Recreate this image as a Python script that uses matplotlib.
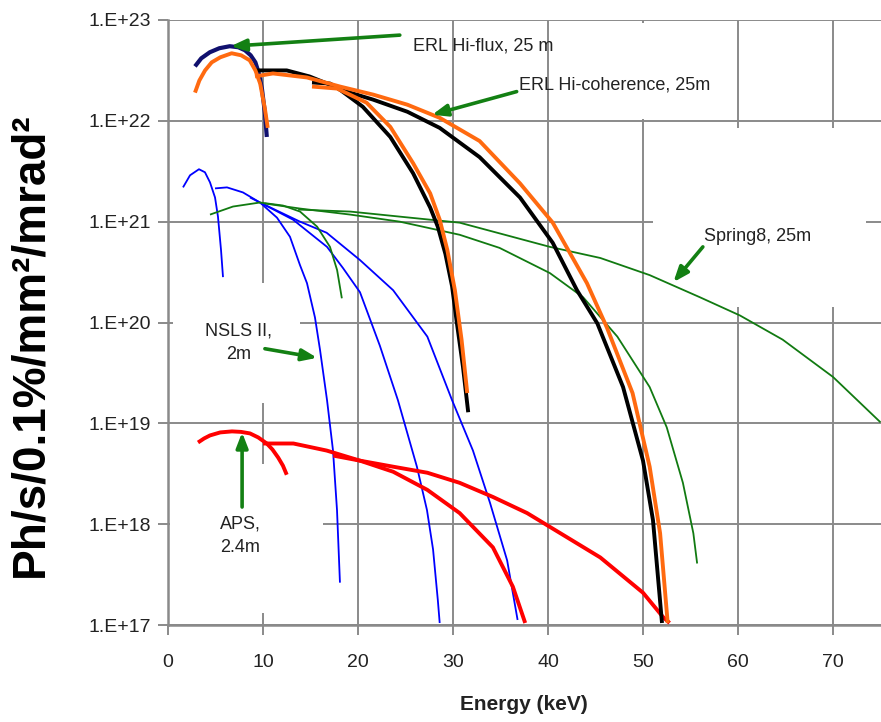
import matplotlib
matplotlib.use("Agg")
import matplotlib.pyplot as plt
from matplotlib.patches import Rectangle
import numpy as np

plt.rcParams['font.family'] = ['Liberation Sans', 'DejaVu Sans']

# ---- data (energy in keV, log10 of brightness) ----
# ERL Hi-flux, 25 m
erl_flux_1_e = [2.84, 3.5, 4.4, 5.4, 6.5, 7.4, 8.1, 8.7, 9.2, 9.6, 9.9, 10.2, 10.4]
erl_flux_1_l = [22.54, 22.62, 22.68, 22.72, 22.74, 22.73, 22.70, 22.65, 22.58, 22.46, 22.31, 22.08, 21.84]
erl_flux_3_e = [9.16, 12.5, 14.9, 17.8, 20.5, 23.4, 25.8, 27.6, 28.4, 29.2, 29.9, 30.4, 31.05, 31.6]
erl_flux_3_l = [22.50, 22.50, 22.44, 22.33, 22.14, 21.84, 21.48, 21.14, 20.95, 20.68, 20.36, 20.0, 19.56, 19.11]
erl_flux_5_e = [15.16, 17.05, 18.1, 21.6, 25.2, 28.6, 32.8, 37.05, 40.5, 43.05, 45.2, 47.9, 50.0, 51.05, 52.0]
erl_flux_5_l = [22.38, 22.37, 22.31, 22.21, 22.09, 21.93, 21.64, 21.24, 20.79, 20.32, 19.99, 19.36, 18.63, 18.04, 17.02]

# ERL Hi-coherence, 25 m
erl_coh_1_e = [2.84, 3.3, 3.9, 4.6, 5.5, 6.7, 7.7, 8.6, 9.2, 9.7, 10.2, 10.5]
erl_coh_1_l = [22.28, 22.40, 22.50, 22.58, 22.63, 22.67, 22.65, 22.60, 22.50, 22.37, 22.12, 21.93]
erl_coh_a_e = [9.16, 11.05, 14.63, 18.1, 21.6, 25.2, 28.6, 32.8, 37.05, 40.5, 44.1, 46.2, 48.9, 50.7, 51.8, 52.6]
erl_coh_a_l = [22.44, 22.47, 22.43, 22.34, 22.26, 22.16, 22.03, 21.80, 21.38, 20.99, 20.39, 19.95, 19.30, 18.57, 17.91, 17.02]
erl_coh_b_e = [15.16, 17.8, 20.9, 23.4, 25.8, 27.6, 28.6, 29.4, 30.2, 30.9, 31.5]
erl_coh_b_l = [22.34, 22.32, 22.18, 21.94, 21.58, 21.28, 21.02, 20.72, 20.32, 19.83, 19.30]

# NSLS II, 2 m
nsls_1_e = [1.58, 2.32, 3.26, 3.89, 4.42, 4.95, 5.26, 5.58, 5.79]
nsls_1_l = [21.34, 21.46, 21.52, 21.49, 21.39, 21.24, 21.05, 20.72, 20.45]
nsls_3_e = [4.95, 6.21, 7.89, 9.68, 11.47, 12.84, 13.89, 14.63, 15.47, 16.0, 16.74, 17.37, 17.79, 18.1]
nsls_3_l = [21.33, 21.34, 21.29, 21.19, 21.04, 20.85, 20.57, 20.39, 20.05, 19.73, 19.23, 18.73, 18.14, 17.42]
nsls_5_e = [8.63, 9.89, 13.16, 16.74, 18.42, 20.21, 22.3, 24.2, 26.2, 27.26, 27.9, 28.4, 28.6]
nsls_5_l = [21.24, 21.18, 21.02, 20.75, 20.54, 20.30, 19.77, 19.23, 18.57, 18.14, 17.75, 17.25, 17.02]
nsls_7_e = [9.9, 13.9, 16.7, 20.2, 23.7, 27.3, 29.9, 32.1, 33.9, 35.7, 36.8]
nsls_7_l = [21.18, 21.0, 20.89, 20.62, 20.32, 19.86, 19.23, 18.73, 18.21, 17.64, 17.05]

# Spring8, 25 m
sp8_a_e = [4.42, 6.84, 9.68, 12.1, 13.9, 15.7, 17.05, 17.8, 18.3]
sp8_a_l = [21.07, 21.15, 21.19, 21.16, 21.10, 20.95, 20.75, 20.52, 20.24]
sp8_b_e = [10.2, 13.9, 19.2, 24.4, 30.7, 34.9, 40.2, 43.7, 47.3, 50.7, 52.5, 54.2, 55.3, 55.7]
sp8_b_l = [21.18, 21.13, 21.07, 21.0, 20.87, 20.74, 20.49, 20.25, 19.86, 19.36, 18.96, 18.41, 17.91, 17.61]
sp8_c_e = [13.7, 19.2, 24.4, 30.7, 40.2, 45.5, 50.7, 56.0, 60.2, 64.7, 70.0, 75.0]
sp8_c_l = [21.12, 21.10, 21.05, 20.99, 20.75, 20.64, 20.47, 20.25, 20.07, 19.83, 19.46, 19.01]

# APS, 2.4 m
aps_1_e = [3.16, 3.8, 4.42, 5.5, 6.74, 7.7, 8.63, 9.5, 10.4, 11.0, 11.6, 12.1, 12.5]
aps_1_l = [18.81, 18.85, 18.88, 18.91, 18.92, 18.915, 18.90, 18.86, 18.80, 18.74, 18.66, 18.58, 18.49]
aps_3_e = [10.0, 13.2, 16.7, 20.2, 23.7, 27.3, 30.7, 34.2, 37.8, 41.3, 45.5, 50.0, 52.1, 52.8]
aps_3_l = [18.80, 18.80, 18.73, 18.63, 18.57, 18.51, 18.41, 18.27, 18.11, 17.91, 17.67, 17.32, 17.08, 17.02]
aps_5_e = [17.4, 20.2, 23.7, 27.3, 30.7, 34.2, 36.3, 37.6]
aps_5_l = [18.68, 18.63, 18.52, 18.34, 18.11, 17.77, 17.38, 17.02]

y_ticks = [1e17, 1e18, 1e19, 1e20, 1e21, 1e22, 1e23]
y_tick_labels = ['1.E+17', '1.E+18', '1.E+19', '1.E+20', '1.E+21', '1.E+22', '1.E+23']
x_ticks = [0, 10, 20, 30, 40, 50, 60, 70]

fig = plt.figure(figsize=(8.81, 7.22), dpi=100)
ax = fig.add_axes([168 / 881, 1 - 625 / 722, 712.5 / 881, 605 / 722])
ax.set_yscale('log')
ax.set_xlim(0, 75)
ax.set_ylim(1e17, 1e23)

grid_c = '#8a8a8a'
ax.set_axisbelow(True)
ax.grid(True, which='major', color=grid_c, lw=1.4)
ax.minorticks_off()
ax.set_xticks(x_ticks)
ax.set_yticks(y_ticks)
ax.set_yticklabels(y_tick_labels)
ax.tick_params(axis='both', colors=grid_c, labelcolor='#222222', labelsize=14,
               length=7, width=1.4, direction='out')
ax.tick_params(axis='y', pad=5)
ax.tick_params(axis='x', pad=14)
for s in ['top', 'right']:
    ax.spines[s].set_visible(False)
for s in ['left', 'bottom']:
    ax.spines[s].set_color(grid_c)
    ax.spines[s].set_linewidth(1.8)

# white text boxes that hide gridlines
for x0, x1, l0, l1 in [(0.5, 13.9, 19.2, 20.39), (0.2, 16.3, 17.12, 18.6),
                       (51.0, 73.5, 20.15, 21.93), (45.5, 55.5, 22.02, 22.97)]:
    ax.add_patch(Rectangle((x0, 10 ** l0), x1 - x0, 10 ** l1 - 10 ** l0,
                           facecolor='white', edgecolor='none', zorder=1))

def curve(e, l, color, lw, z=3):
    ax.plot(e, 10 ** np.array(l), color=color, lw=lw, zorder=z,
            solid_capstyle='butt', solid_joinstyle='round')

blue = '#0000ff'
green = '#117a11'
for e, l in [(nsls_1_e, nsls_1_l), (nsls_3_e, nsls_3_l), (nsls_5_e, nsls_5_l), (nsls_7_e, nsls_7_l)]:
    curve(e, l, blue, 1.3)
for e, l in [(sp8_a_e, sp8_a_l), (sp8_b_e, sp8_b_l), (sp8_c_e, sp8_c_l)]:
    curve(e, l, green, 1.3)
for e, l in [(aps_1_e, aps_1_l), (aps_3_e, aps_3_l), (aps_5_e, aps_5_l)]:
    curve(e, l, '#ff0000', 2.8)
curve(erl_flux_1_e, erl_flux_1_l, '#10106e', 3.0, 4)
for e, l in [(erl_flux_3_e, erl_flux_3_l), (erl_flux_5_e, erl_flux_5_l)]:
    curve(e, l, '#000000', 2.8, 4)
for e, l in [(erl_coh_1_e, erl_coh_1_l), (erl_coh_a_e, erl_coh_a_l), (erl_coh_b_e, erl_coh_b_l)]:
    curve(e, l, '#ff6a10', 2.8, 5)

# labels with arrows
txt_c = '#222222'
arr = dict(arrowstyle='-|>,head_length=0.9,head_width=0.35', color='#138013', lw=2.6, shrinkA=0, shrinkB=0)

def arrow(e0, l0, e1, l1):
    ax.annotate('', xy=(e1, 10 ** l1), xytext=(e0, 10 ** l0), arrowprops=arr, zorder=6)

fs = 13
arrow(24.4, 22.85, 6.6, 22.74)
ax.text(25.8, 10 ** 22.74, 'ERL Hi-flux, 25 m', fontsize=fs, color=txt_c, ha='left', va='center', zorder=6)
arrow(36.7, 22.29, 27.8, 22.06)
ax.text(36.95, 10 ** 22.36, 'ERL Hi-coherence, 25m', fontsize=fs, color=txt_c, ha='left', va='center', zorder=6)
arrow(56.3, 20.75, 53.2, 20.40)
ax.text(56.4, 10 ** 20.85, 'Spring8, 25m', fontsize=fs, color=txt_c, ha='left', va='center', zorder=6)
arrow(10.2, 19.74, 15.7, 19.65)
ax.text(7.4, 10 ** 19.8, 'NSLS II,\n2m', fontsize=fs, color=txt_c, ha='center', va='center',
        linespacing=1.5, zorder=6)
arrow(7.8, 18.17, 7.8, 18.91)
ax.text(7.6, 10 ** 17.89, 'APS,\n2.4m', fontsize=fs, color=txt_c, ha='center', va='center',
        linespacing=1.5, zorder=6)

ax.set_xlabel('Energy (keV)', fontsize=15, fontweight='bold', color=txt_c, labelpad=17)
fig.text(30 / 881, 1 - 345 / 722, 'Ph/s/0.1%/mm\u00b2/mrad\u00b2', rotation=90, fontsize=33,
         fontweight='bold', color='#000000', ha='center', va='center')

fig.savefig('out.png', dpi=100)
